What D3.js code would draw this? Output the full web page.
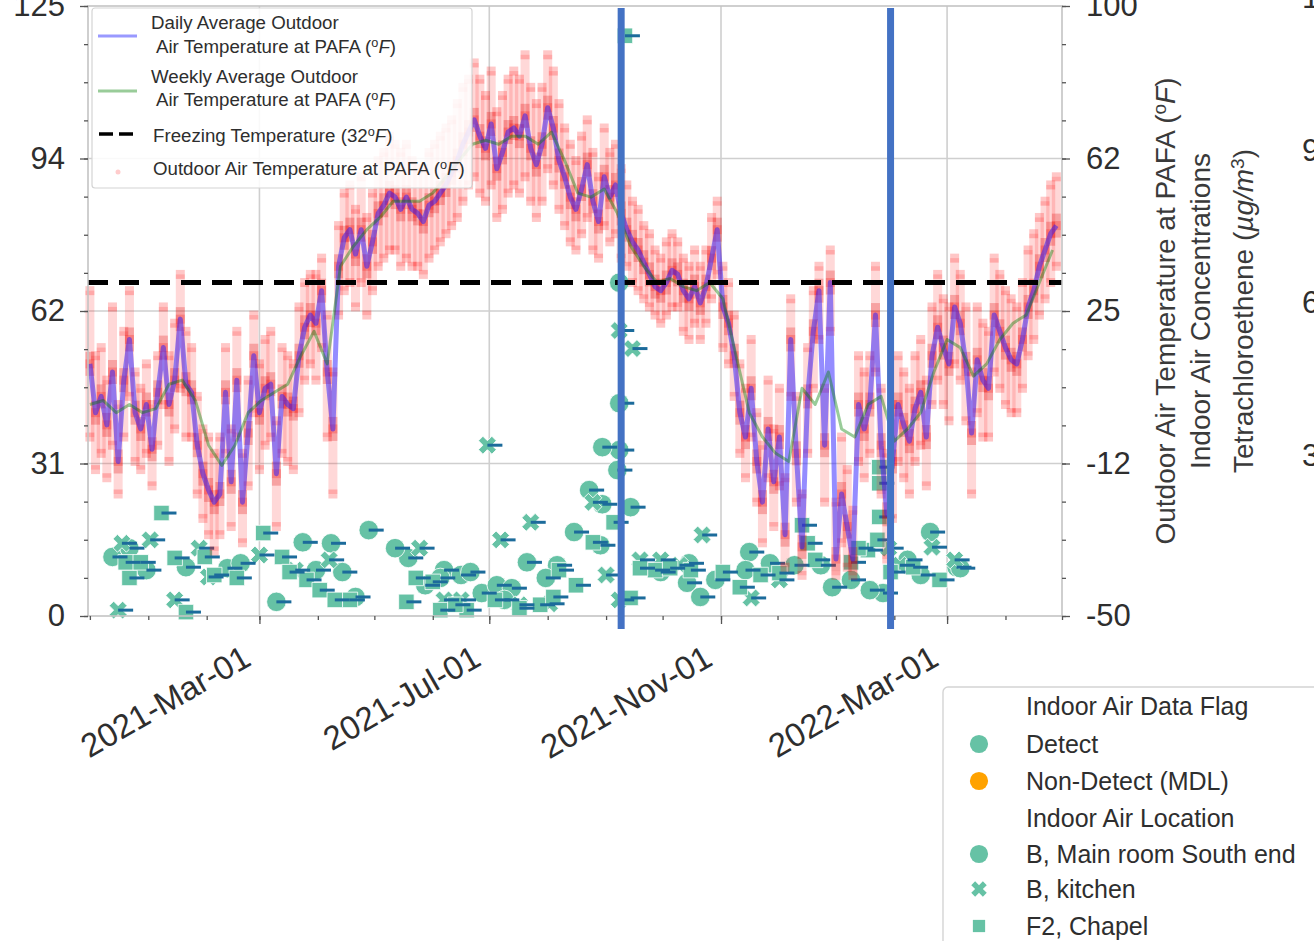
<!DOCTYPE html>
<html>
<head>
<meta charset="utf-8">
<script src="https://cdn.jsdelivr.net/npm/d3@7"></script>
<style>
  html, body { margin: 0; padding: 0; background: #fff; overflow: hidden; }
  svg { display: block; font-family: "Liberation Sans", Arial, Helvetica, sans-serif; }
</style>
</head>
<body>
<svg id="chart" width="1314" height="941"></svg>
<script>
// ---------------- Outdoor air temperature at PAFA (°F) ----------------
// One sample every 3 days starting 2020-12-01: daily mean, low and high reading.
const TEMP_START = "2020-12-01";
const TEMP_STEP_DAYS = 3;
const tempMean = [
  12, 0, 4, -3, 10, -12, 8, 18, 0, -4,
  2, -9, 5, 16, 2, 8, 23, 7, 5, -8,
  -15, -19, -22, -20, 5, -17, 8, -22, -5, 14,
  0, 6, 7, -15, 4, 2, 1, 14, 21, 24,
  22, 30, 10, -4, 36, 43, 45, 39, 45, 36,
  42, 49, 51, 54, 53, 50, 53, 50, 49, 47,
  51, 52, 54, 56, 59, 62, 66, 69, 72, 68,
  65, 71, 60, 64, 69, 70, 68, 73, 65, 61,
  66, 75, 70, 62, 58, 53, 50, 55, 61, 52,
  47, 58, 53, 56, 49, 45, 42, 40, 37, 34,
  31, 30, 32, 35, 34, 30, 28, 31, 27, 31,
  38, 45, 26, 22, 14, 0, -6, 6, -12, -22,
  -4, -17, -6, -30, 18, -10, -33, 4, 20, 30,
  -8, 32, -36, -20, -28, -36, 2, -4, 2, 24,
  -8, -25, -12, 2, -3, -7, 1, 5, -6, 14,
  21, 16, 12, 26, 22, 12, -5, 13, 8, 6,
  24, 20, 16, 13, 12, 18, 26, 30, 36, 40,
  44, 46
];
const tempLow = [
  -6, -14, -10, -16, -8, -20, -6, 4, -12, -14,
  -10, -18, -8, 2, -12, -4, 6, -6, -6, -20,
  -26, -30, -34, -30, -10, -28, -6, -32, -18, 0,
  -14, -8, -6, -28, -10, -12, -14, 0, 8, 12,
  8, 16, -6, -20, 24, 30, 32, 26, 32, 24,
  30, 36, 38, 40, 40, 36, 38, 36, 36, 34,
  38, 40, 42, 44, 46, 48, 52, 56, 58, 54,
  52, 56, 48, 50, 54, 56, 54, 58, 52, 48,
  52, 60, 56, 50, 46, 42, 40, 44, 48, 40,
  38, 46, 42, 44, 38, 36, 32, 30, 28, 26,
  24, 22, 24, 26, 26, 20, 18, 22, 18, 22,
  28, 34, 16, 12, 4, -10, -16, -6, -22, -32,
  -16, -28, -18, -38, 4, -22, -40, -10, 6, 18,
  -22, 20, -40, -32, -38, -40, -12, -16, -10, 10,
  -20, -36, -26, -12, -16, -20, -12, -8, -18, 2,
  8, 2, -2, 12, 8, -2, -20, 0, -6, -6,
  10, 6, 2, 0, 0, 6, 14, 18, 24, 28,
  32, 36
];
const tempHigh = [
  30, 14, 16, 8, 26, 2, 20, 30, 10, 6,
  12, 2, 14, 26, 14, 22, 34, 20, 16, 4,
  -4, -6, -10, -6, 16, -4, 20, -10, 8, 24,
  12, 18, 20, -2, 16, 14, 12, 26, 32, 34,
  34, 38, 24, 10, 46, 54, 56, 50, 58, 48,
  54, 62, 64, 68, 66, 64, 66, 62, 60, 60,
  64, 66, 68, 70, 72, 76, 80, 82, 86, 82,
  78, 84, 74, 78, 82, 84, 82, 88, 80, 76,
  80, 88, 84, 76, 70, 66, 62, 68, 72, 64,
  58, 70, 64, 66, 60, 56, 52, 50, 46, 44,
  40, 38, 42, 44, 42, 38, 36, 40, 36, 40,
  48, 52, 36, 32, 24, 12, 6, 18, 0, -8,
  8, -4, 6, -16, 28, 4, -20, 16, 30, 36,
  6, 40, -22, -6, -14, -24, 14, 10, 14, 36,
  6, -10, 2, 14, 10, 6, 14, 18, 8, 26,
  34, 28, 26, 38, 34, 26, 10, 26, 22, 20,
  38, 34, 30, 28, 26, 32, 40, 44, 48, 52,
  56, 58
];

// Weekly average, one value every 7 days starting 2020-12-01.
const WEEKLY_START = "2020-12-01";
const WEEKLY_STEP_DAYS = 7;
const tempWeekly = [
  2, 3, 0, 2, 0, 1, 7, 8, 3, -8,
  -13, -8, 0, 3, 5, 7, 14, 20, 12, 36,
  41, 45, 48, 52, 52, 52, 54, 58, 62, 66,
  67, 66, 68, 68, 66, 69, 62, 54, 53, 55,
  49, 41, 36, 32, 33, 31, 30, 32, 28, 14,
  0, -6, -10, -12, 6, 2, 10, -4, -6, 2,
  4, -7, -4, 0, 10, 18, 16, 9, 12, 18,
  22, 24, 32, 40
];
const FREEZING_F = 32;

// ---------------- Indoor air tetrachloroethene (µg/m³) ----------------
// Sample day = days after INDOOR_START.
const INDOOR_START = "2020-12-01";
const mainRoomDays = [12, 51, 99, 113, 128, 120, 134, 148, 141, 169,
  188, 197, 208, 216, 224, 232, 248, 257, 281, 281,
  272, 280, 281, 287, 318, 317, 324, 350, 361, 388,
  394, 421, 446, 434, 460, 21, 73, 186, 265, 272,
  30, 80, 162, 178, 202, 220, 242, 271, 303, 332,
  348, 374, 404, 414, 441, 462];
const mainRoomValues = [12.1, 10.0, 2.9, 15.1, 14.9, 9.4, 9.0, 17.6, 3.9, 11.9,
  9.4, 8.4, 4.7, 6.3, 5.7, 11.0, 10.4, 17.2, 43.6, 34.0,
  34.6, 29.9, 68.3, 22.3, 10.8, 6.8, 3.9, 13.1, 10.8, 10.4,
  5.9, 4.7, 17.2, 11.5, 10.0, 13.9, 9.8, 7.8, 25.8, 22.9,
  9.4, 10.8, 13.9, 6.3, 9.0, 3.3, 7.8, 14.5, 9.0, 7.4,
  9.4, 10.4, 7.4, 5.3, 8.4, 9.8];
const kitchenDays = [17, 15, 63, 32, 58, 175, 197, 211, 234, 218,
  267, 274, 281, 288, 325, 351, 292, 313, 90, 109,
  244, 424, 447, 281, 45, 127, 188, 228, 303, 366,
  430, 459];
const kitchenValues = [14.9, 1.2, 8.0, 15.6, 13.9, 13.9, 3.3, 35.0, 19.2, 15.6,
  23.3, 8.4, 58.5, 54.8, 16.6, 3.7, 11.5, 10.4, 12.5, 9.4,
  2.5, 13.9, 14.1, 3.3, 3.3, 11.5, 3.3, 2.3, 11.5, 7.4,
  10.4, 11.5];
const chapelDays = [21, 19, 38, 45, 78, 92, 102, 115, 122, 51,
  182, 168, 186, 200, 228, 239, 246, 258, 267, 287,
  284, 336, 345, 366, 378, 381, 413, 418, 419, 419,
  419, 437, 404, 300, 308, 61, 138, 278, 27, 66,
  106, 130, 173, 194, 215, 249, 292, 319, 356, 385,
  408, 425, 451];
const chapelValues = [7.8, 11.0, 21.1, 11.9, 7.8, 17.0, 12.1, 7.4, 5.3, 0.8,
  7.0, 2.9, 1.2, 1.2, 1.6, 2.3, 3.9, 6.3, 15.1, 3.7,
  118.9, 9.0, 5.9, 8.8, 18.6, 14.9, 13.5, 15.6, 20.3, 27.2,
  30.5, 10.0, 11.0, 9.4, 9.8, 12.1, 3.3, 19.2, 11.0, 8.4,
  9.0, 3.3, 7.8, 2.3, 3.3, 9.4, 9.8, 9.4, 8.4, 11.5,
  13.9, 9.0, 7.4];

// ---------------- Axes ----------------
const X_DOMAIN = ["2020-11-30", "2022-05-01"];
const dateTickValues = ["2021-03-01", "2021-07-01", "2021-11-01", "2022-03-01"];
const dateTickLabels = ["2021-Mar-01", "2021-Jul-01", "2021-Nov-01", "2022-Mar-01"];
const leftTickValues = [0, 31.25, 62.5, 93.75, 125];
const leftTickLabels = ["0", "31", "62", "94", "125"];
const rightTickValues = [-50, -12.5, 25, 62.5, 100];
const rightTickLabels = ["-50", "-12", "25", "62", "100"];
const thirdTickValues = [3, 6, 9, 12];
const thirdTickLabels = ["3", "6", "9", "12"];
const eventDates = ["2021-09-09", "2022-01-30"];

// ---------------- Drawing ----------------
const plot = { left: 88, right: 1062, top: 6, bottom: 616 };
const TEXT = "#2e2e2e";
const TEAL = "#66c2a5";
const svg = d3.select("#chart");
const parse = d3.utcParse("%Y-%m-%d");
const addDays = (s, n) => d3.utcDay.offset(parse(s), n);

const x = d3.scaleUtc().domain(X_DOMAIN.map(parse)).range([plot.left, plot.right]);
const yConc = d3.scaleLinear().domain([0, 125]).range([plot.bottom, plot.top]);
const yTemp = d3.scaleLinear().domain([-50, 100]).range([plot.bottom, plot.top]);
const yThird = d3.scaleLinear().domain([0, 12]).range([607, -3]);

// text with superscript / italic pieces
function rich(textSel, segs) {
  segs.forEach(([t, kind]) => {
    const ts = textSel.append("tspan").text(t);
    if (kind === "sup") ts.attr("font-size", "68%").attr("baseline-shift", "45%");
    if (kind === "it") ts.attr("font-style", "italic");
  });
  return textSel;
}
const degF = (prefix) => [[prefix, ""], ["o", "sup"], ["F", "it"], [")", ""]];

// grid
const grid = svg.append("g");
grid.selectAll("line.h").data(leftTickValues.slice(1, -1)).join("line")
  .attr("x1", plot.left).attr("x2", plot.right)
  .attr("y1", d => yConc(d)).attr("y2", d => yConc(d))
  .attr("stroke", "#cfcfcf").attr("stroke-width", 1.6);
grid.selectAll("line.v").data(dateTickValues.map(parse)).join("line")
  .attr("x1", d => x(d)).attr("x2", d => x(d))
  .attr("y1", plot.top).attr("y2", plot.bottom)
  .attr("stroke", "#cfcfcf").attr("stroke-width", 1.6);

// indoor air markers
const locations = [
  { name: "B, Main room South end", days: mainRoomDays, values: mainRoomValues, type: d3.symbolCircle, size: 300, rot: 0 },
  { name: "B, kitchen", days: kitchenDays, values: kitchenValues, type: d3.symbolCross, size: 200, rot: 45 },
  { name: "F2, Chapel", days: chapelDays, values: chapelValues, type: d3.symbolSquare, size: 240, rot: 0 }
];
const indoorPts = locations.flatMap(loc => loc.days.map((d, i) => ({
  date: addDays(INDOOR_START, d), v: loc.values[i], loc
})));
const gInd = svg.append("g");
gInd.selectAll("path").data(indoorPts).join("path")
  .attr("d", p => d3.symbol(p.loc.type, p.loc.size)())
  .attr("transform", p => `translate(${x(p.date)},${yConc(p.v)}) rotate(${p.loc.rot})`)
  .attr("fill", TEAL).attr("stroke", "#ffffff").attr("stroke-width", 0.8);
gInd.selectAll("line").data(indoorPts).join("line")
  .attr("x1", p => x(p.date)).attr("x2", p => x(p.date) + 15)
  .attr("y1", p => yConc(p.v)).attr("y2", p => yConc(p.v))
  .attr("stroke", "#1c6b9b").attr("stroke-width", 3);

// outdoor temperature readings
const tempPts = tempMean.map((m, i) => ({
  date: addDays(TEMP_START, i * TEMP_STEP_DAYS), mean: m, lo: tempLow[i], hi: tempHigh[i]
}));
const gTemp = svg.append("g");
gTemp.selectAll("rect.range").data(tempPts).join("rect")
  .attr("x", d => x(d.date) - 4.5).attr("width", 9)
  .attr("y", d => yTemp(d.hi)).attr("height", d => yTemp(d.lo) - yTemp(d.hi))
  .attr("fill", "#ff1a1a").attr("opacity", 0.17);
const readings = tempPts.flatMap(d => [d.lo, d.mean, d.hi].map(t => ({ date: d.date, t })));
gTemp.selectAll("rect.pt").data(readings).join("rect")
  .attr("x", d => x(d.date) - 4.5).attr("y", d => yTemp(d.t) - 4.5)
  .attr("width", 9).attr("height", 9)
  .attr("fill", "#ff0000").attr("opacity", 0.22);
gTemp.selectAll("rect.core").data(tempPts).join("rect")
  .attr("x", d => x(d.date) - 4.5).attr("width", 9)
  .attr("y", d => yTemp(d.mean) - 12).attr("height", 24)
  .attr("fill", "#e00000").attr("opacity", 0.25);

// daily and weekly averages
gTemp.append("path").datum(tempPts)
  .attr("d", d3.line().x(d => x(d.date)).y(d => yTemp(d.mean)))
  .attr("fill", "none").attr("stroke", "#2a1aff").attr("stroke-opacity", 0.5)
  .attr("stroke-width", 5).attr("stroke-linejoin", "round");
const weeklyPts = tempWeekly.map((t, i) => ({ date: addDays(WEEKLY_START, i * WEEKLY_STEP_DAYS), t }));
gTemp.append("path").datum(weeklyPts)
  .attr("d", d3.line().x(d => x(d.date)).y(d => yTemp(d.t)))
  .attr("fill", "none").attr("stroke", "#008000").attr("stroke-opacity", 0.4)
  .attr("stroke-width", 3).attr("stroke-linejoin", "round");

// freezing line
svg.append("line")
  .attr("x1", plot.left).attr("x2", plot.right)
  .attr("y1", yTemp(FREEZING_F)).attr("y2", yTemp(FREEZING_F))
  .attr("stroke", "#000").attr("stroke-width", 5).attr("stroke-dasharray", "20,11");

// frame
svg.append("rect")
  .attr("x", plot.left).attr("y", plot.top)
  .attr("width", plot.right - plot.left).attr("height", plot.bottom - plot.top)
  .attr("fill", "none").attr("stroke", "#c4c4c4").attr("stroke-width", 1.6);

// axes
function styleAxis(g) {
  g.select(".domain").remove();
  g.selectAll(".tick line").attr("stroke", "#555").attr("stroke-width", 1.3);
  g.selectAll(".tick text").attr("fill", TEXT).attr("font-size", 31)
    .attr("font-family", "Liberation Sans, Arial, sans-serif");
}
const minorLeft = d3.range(0, 125.01, 125 / 16);
const minorRight = d3.range(-50, 100.01, 150 / 16);
svg.append("g").attr("transform", `translate(${plot.left},0)`)
  .call(d3.axisLeft(yConc).tickValues(minorLeft).tickSize(4).tickFormat(""))
  .call(styleAxis);
svg.append("g").attr("transform", `translate(${plot.left},0)`)
  .call(d3.axisLeft(yConc).tickValues(leftTickValues).tickSize(8).tickPadding(15)
    .tickFormat((d, i) => leftTickLabels[i]))
  .call(styleAxis);
svg.append("g").attr("transform", `translate(${plot.right},0)`)
  .call(d3.axisRight(yTemp).tickValues(minorRight).tickSize(4).tickFormat(""))
  .call(styleAxis);
svg.append("g").attr("transform", `translate(${plot.right},0)`)
  .call(d3.axisRight(yTemp).tickValues(rightTickValues).tickSize(8).tickPadding(16)
    .tickFormat((d, i) => rightTickLabels[i]))
  .call(styleAxis);

const months = d3.utcMonth.range(x.domain()[0], d3.utcDay.offset(x.domain()[1], 1));
svg.append("g").attr("transform", `translate(0,${plot.bottom})`)
  .call(d3.axisBottom(x).tickValues(months).tickSize(4).tickFormat(""))
  .call(styleAxis);
const xAxis = svg.append("g").attr("transform", `translate(0,${plot.bottom})`)
  .call(d3.axisBottom(x).tickValues(dateTickValues.map(parse)).tickSize(8)
    .tickFormat((d, i) => dateTickLabels[i]))
  .call(styleAxis);
xAxis.selectAll(".tick text")
  .attr("font-size", 33).attr("text-anchor", "end")
  .attr("x", -7).attr("y", 48).attr("dy", 0)
  .attr("transform", "rotate(-30, -7, 48)");

// partial third axis labels at the right edge
svg.append("g").selectAll("text").data(thirdTickValues).join("text")
  .attr("x", 1302).attr("y", d => yThird(d) + 11)
  .attr("fill", TEXT).attr("font-size", 31)
  .text((d, i) => thirdTickLabels[i]);

// right-hand axis title (three lines)
const titleLines = [
  { x: 1175, segs: degF("Outdoor Air Temperature at PAFA (") },
  { x: 1210, segs: [["Indoor Air Concentrations", ""]] },
  { x: 1253, segs: [["Tetrachloroethene (", ""], ["µg/m", "it"], ["3", "sup"], [")", ""]] }
];
titleLines.forEach(l => {
  const t = svg.append("text")
    .attr("transform", `translate(${l.x},311) rotate(-90)`)
    .attr("text-anchor", "middle").attr("fill", "#3a3a3a").attr("font-size", 28);
  rich(t, l.segs);
});

// event markers
svg.append("g").selectAll("line").data(eventDates.map(parse)).join("line")
  .attr("x1", d => x(d)).attr("x2", d => x(d))
  .attr("y1", 8).attr("y2", 629)
  .attr("stroke", "#4472c4").attr("stroke-width", 7);

// ---------------- Legends ----------------
const lg = svg.append("g");
lg.append("rect").attr("x", 92).attr("y", 8).attr("width", 380).attr("height", 180)
  .attr("rx", 3).attr("fill", "#fff").attr("fill-opacity", 0.88)
  .attr("stroke", "#d4d4d4").attr("stroke-width", 1.2);
lg.append("line").attr("x1", 98).attr("x2", 137).attr("y1", 36).attr("y2", 36)
  .attr("stroke", "#0000ff").attr("stroke-opacity", 0.4).attr("stroke-width", 3);
lg.append("line").attr("x1", 98).attr("x2", 137).attr("y1", 91).attr("y2", 91)
  .attr("stroke", "#008000").attr("stroke-opacity", 0.4).attr("stroke-width", 3);
lg.append("line").attr("x1", 99).attr("x2", 134).attr("y1", 134).attr("y2", 134)
  .attr("stroke", "#000").attr("stroke-width", 3.5).attr("stroke-dasharray", "14,6");
lg.append("circle").attr("cx", 118).attr("cy", 172).attr("r", 2.5)
  .attr("fill", "#ff0000").attr("opacity", 0.2);
const lgText = [
  { x: 151, y: 29, segs: [["Daily Average Outdoor", ""]] },
  { x: 156, y: 53, segs: degF("Air Temperature at PAFA (") },
  { x: 151, y: 83, segs: [["Weekly Average Outdoor", ""]] },
  { x: 156, y: 106, segs: degF("Air Temperature at PAFA (") },
  { x: 153, y: 142, segs: degF("Freezing Temperature (32") },
  { x: 153, y: 175, segs: degF("Outdoor Air Temperature at PAFA (") }
];
lgText.forEach(l => {
  rich(lg.append("text").attr("x", l.x).attr("y", l.y).attr("fill", TEXT).attr("font-size", 18.7), l.segs);
});

const lg2 = svg.append("g");
lg2.append("rect").attr("x", 943).attr("y", 687).attr("width", 420).attr("height", 300)
  .attr("rx", 5).attr("fill", "#fff").attr("stroke", "#d4d4d4").attr("stroke-width", 1.4);
const lg2Items = [
  { label: "Indoor Air Data Flag", y: 715 },
  { label: "Detect", y: 753, type: d3.symbolCircle, size: 260, color: TEAL },
  { label: "Non-Detect (MDL)", y: 790, type: d3.symbolCircle, size: 260, color: "#ffa200" },
  { label: "Indoor Air Location", y: 827 },
  { label: locations[0].name, y: 863, type: d3.symbolCircle, size: 260, color: TEAL },
  { label: locations[1].name, y: 898, type: d3.symbolCross, size: 150, color: TEAL, rot: 45 },
  { label: locations[2].name, y: 935, type: d3.symbolSquare, size: 150, color: TEAL }
];
lg2Items.forEach(it => {
  if (it.type) {
    lg2.append("path").attr("d", d3.symbol(it.type, it.size)())
      .attr("transform", `translate(979,${it.y - 9}) rotate(${it.rot || 0})`)
      .attr("fill", it.color);
  }
  lg2.append("text").attr("x", 1026).attr("y", it.y)
    .attr("fill", TEXT).attr("font-size", 25).text(it.label);
});
</script>
</body>
</html>
